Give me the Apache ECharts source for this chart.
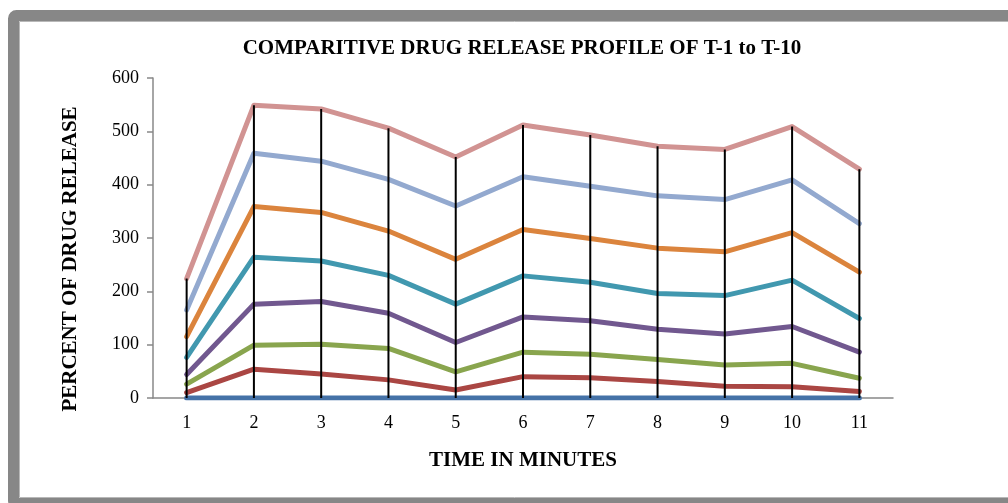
<!DOCTYPE html>
<html>
<head>
<meta charset="utf-8">
<script src="https://cdn.jsdelivr.net/npm/echarts@6/dist/echarts.min.js"></script>
<style>
  html, body { margin: 0; padding: 0; background: #ffffff; }
  #chart { width: 1008px; height: 503px; }
</style>
</head>
<body>
<div id="chart"></div>
<script>
// Time points (minutes)
const minutes = ['1', '2', '3', '4', '5', '6', '7', '8', '9', '10', '11'];

// Release increments per formulation (stacked on one another)
const t1 = [0, 0, 0, 0, 0, 0, 0, 0, 0, 0, 0];
const t2 = [10, 54, 45, 34, 15, 40, 38, 31, 22, 21, 12];
const t3 = [16, 45, 56, 59, 34, 46, 44, 41, 40, 44, 25];
const t4 = [18, 77, 80, 66, 55, 66, 63, 57, 58, 69, 49];
const t5 = [32, 88, 76, 71, 72, 77, 72, 67, 72, 87, 63];
const t6 = [39, 95, 91, 83, 84, 87, 82, 85, 82, 89, 87];
const t7 = [50, 100, 96, 97, 100, 99, 98, 98, 98, 99, 91];
const t8 = [59, 90, 98, 96, 92, 97, 96, 93, 94, 100, 102];

const seriesData = [t1, t2, t3, t4, t5, t6, t7, t8];
const seriesNames = ['T-1', 'T-2', 'T-3', 'T-4', 'T-5', 'T-6', 'T-7', 'T-8'];
const colors = ['#4572A7', '#AA4643', '#89A54E', '#71588F', '#4198AF', '#DB843D', '#93A9CF', '#D19392'];

// Top of the stack at each time point, used for the drop lines
const totals = minutes.map((_, i) => seriesData.reduce((s, arr) => s + arr[i], 0));

const FONT = '"Liberation Serif", "Times New Roman", serif';

const chart = echarts.init(document.getElementById('chart'), null, { renderer: 'canvas' });

const lineSeries = seriesData.map((arr, k) => ({
  name: seriesNames[k],
  type: 'line',
  stack: 'release',
  data: arr,
  showSymbol: false,
  symbol: 'none',
  lineStyle: { color: colors[k], width: 5, cap: 'round', join: 'round' },
  itemStyle: { color: colors[k] },
  z: 2 + k * 0.01,
  animation: false
}));

const option = {
  animation: false,
  backgroundColor: '#ffffff',
  title: {
    text: 'COMPARITIVE DRUG RELEASE PROFILE OF T-1 to T-10',
    left: 517,
    top: 33,
    textAlign: 'center',
    textStyle: { fontFamily: FONT, fontWeight: 'bold', fontSize: 21, color: '#000' }
  },
  grid: { left: 153, top: 78, right: 115, bottom: 105, containLabel: false },
  xAxis: {
    type: 'category',
    data: minutes,
    boundaryGap: true,
    name: 'TIME IN MINUTES',
    nameLocation: 'middle',
    nameGap: 52,
    nameTextStyle: { fontFamily: FONT, fontWeight: 'bold', fontSize: 21, color: '#000' },
    axisLine: { lineStyle: { color: '#888888', width: 1.5 } },
    axisTick: { show: false },
    axisLabel: { fontFamily: FONT, fontSize: 18, color: '#000', margin: 16 },
    splitLine: { show: false }
  },
  yAxis: {
    type: 'value',
    min: 0,
    max: 600,
    interval: 100,
    axisLine: { show: true, lineStyle: { color: '#888888', width: 1.5 } },
    axisTick: { show: true, inside: false, length: 6, lineStyle: { color: '#888888', width: 1.5 } },
    axisLabel: { fontFamily: FONT, fontSize: 18, color: '#000', margin: 14 },
    splitLine: { show: false }
  },
  series: [
    ...lineSeries,
    {
      name: 'drop',
      type: 'bar',
      data: totals,
      barWidth: 2,
      itemStyle: { color: '#000000' },
      z: 5,
      animation: false
    }
  ],
  graphic: [
    {
      // vertical axis title
      type: 'text',
      x: 71,
      y: 259,
      rotation: Math.PI / 2,
      style: {
        text: 'PERCENT OF DRUG RELEASE',
        font: 'bold 21px ' + FONT,
        fill: '#000',
        textAlign: 'center',
        textVerticalAlign: 'middle'
      },
      z: 50,
      silent: true
    },
    {
      type: 'rect',
      shape: { x: 13.5, y: 15.5, width: 1001, height: 488, r: 3 },
      style: { fill: 'none', stroke: '#878787', lineWidth: 11 },
      z: 100,
      silent: true
    },
    {
      type: 'rect',
      shape: { x: 19.5, y: 21.5, width: 990, height: 476 },
      style: { fill: 'none', stroke: '#b8b8b8', lineWidth: 1 },
      z: 100,
      silent: true
    }
  ]
};

chart.setOption(option);
</script>
</body>
</html>
